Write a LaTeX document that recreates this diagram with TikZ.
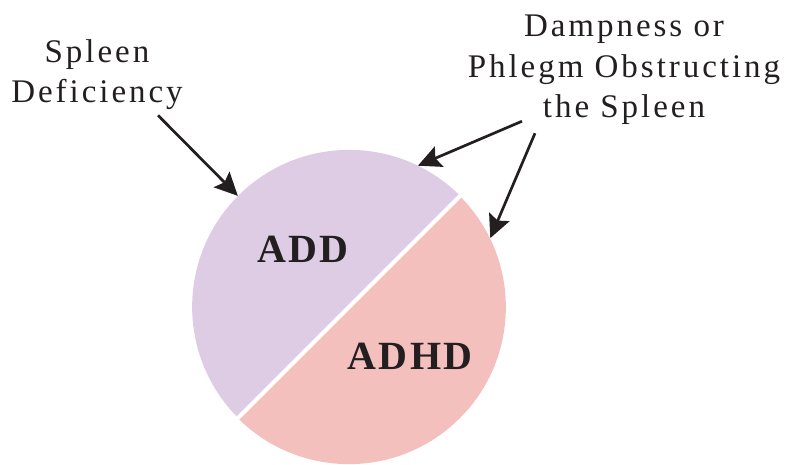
\documentclass[tikz,border=0pt]{standalone}
\usepackage{fontspec}
\setmainfont{Liberation Serif}
\usetikzlibrary{arrows.meta,calc}

\definecolor{addcol}{HTML}{DDCCE4}
\definecolor{adhdcol}{HTML}{F4C0BE}
\definecolor{inkcol}{HTML}{231F20}

\begin{document}
\begin{tikzpicture}[x=1pt,y=-1pt,
	cause/.style={align=center,inner sep=0pt,anchor=base,text=inkcol,
		font=\fontsize{33}{40.5}\selectfont\addfontfeatures{LetterSpace=9}},
	disorder/.style={inner sep=0pt,anchor=base,text=inkcol,
		font=\fontsize{40}{40}\selectfont\bfseries\addfontfeatures{LetterSpace=6}},
	pointer/.style={draw=inkcol,line width=2.7pt,-{Stealth[length=23pt,width=22pt,inset=4pt]}}]
	
	\useasboundingbox (0,0) rectangle (792,465);
	
	% Define the circle
	\node[circle,minimum size=314pt,inner sep=0pt] (pie) at (349,307) {};
	\fill[addcol] (pie.45) arc[start angle=45,end angle=225,radius=157pt] -- cycle;
	\fill[adhdcol] (pie.225) arc[start angle=225,end angle=405,radius=157pt] -- cycle;
	\draw[white,line width=4pt] (pie.225) -- (pie.45);
	
	% Label the two halves
	\node[disorder] (add) at (303,262) {ADD};
	\node[disorder] (adhd) at (410,369) {ADHD};
	
	% Label the causes (base is the last line)
	\node[cause] (spleen) at (97,103) {Spleen\\Deficiency};
	\node[cause] (damp) at (624,118) {Dampness or\\Phlegm Obstructing\\the Spleen};
	
	% Draw the arrows
	\draw[pointer] ($(spleen.south)+(61,5)$) -- (pie.135);
	\draw[pointer] ($(damp.south)+(-102,-4)$) -- (pie.64);
	\draw[pointer] ($(damp.south)+(-89,8)$) -- (pie.26);
	
\end{tikzpicture}
\end{document}
